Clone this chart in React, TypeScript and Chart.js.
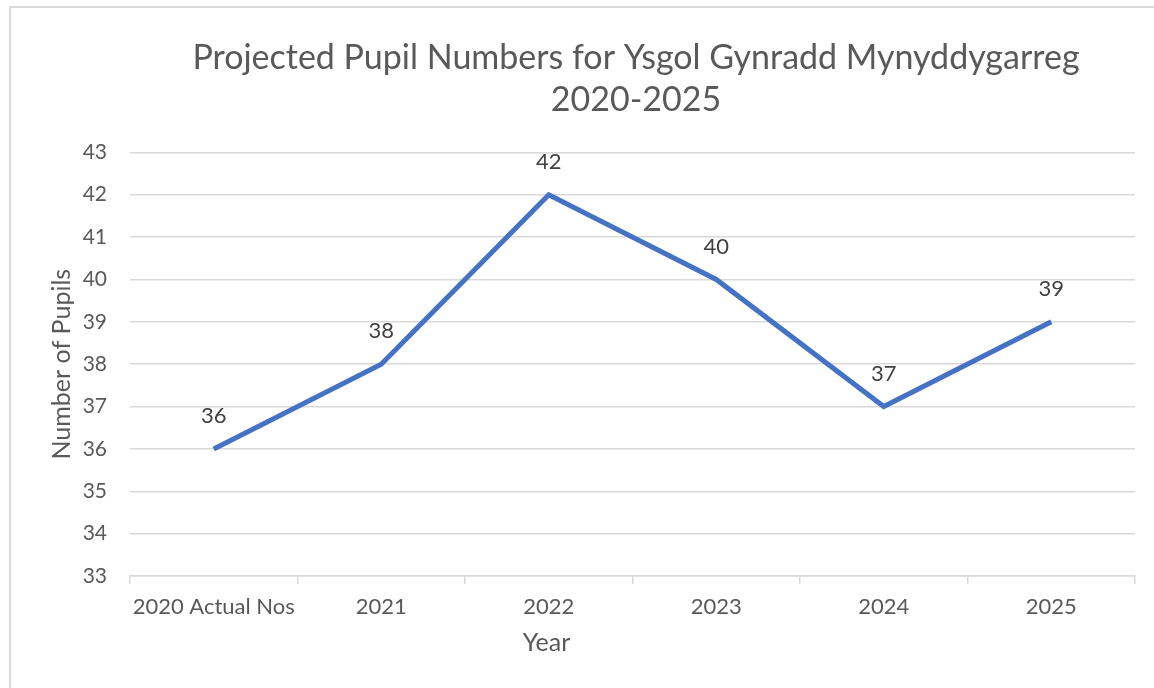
import React, { useEffect, useRef } from "react";
import { Chart, registerables } from "chart.js";

Chart.register(...registerables);

const categories = ["2020 Actual Nos", "2021", "2022", "2023", "2024", "2025"];
const pupils = [36, 38, 42, 40, 37, 39];
const yMin = 33;
const yMax = 43;
const titleLines = ["Projected Pupil Numbers for Ysgol Gynradd Mynyddygarreg", "2020-2025"];
const xTitle = "Year";
const yTitle = "Number of Pupils";

const FONT = "Lato, 'Open Sans', sans-serif";
const GRID = "#d9d9d9";
const TEXT = "#595959";

const dataLabels = {
  id: "dataLabels",
  afterDatasetsDraw(chart: any) {
    const ctx = chart.ctx;
    const meta = chart.getDatasetMeta(0);
    ctx.save();
    ctx.font = `22px ${FONT}`;
    ctx.fillStyle = "#404040";
    ctx.textAlign = "center";
    ctx.textBaseline = "middle";
    meta.data.forEach((pt: any, i: number) => {
      ctx.fillText(String(chart.data.datasets[0].data[i]), pt.x, pt.y - 33);
    });
    ctx.restore();
  },
};

const xAxisTitle = {
  id: "xAxisTitle",
  afterDraw(chart: any) {
    const ctx = chart.ctx;
    const area = chart.chartArea;
    ctx.save();
    ctx.font = `25px ${FONT}`;
    ctx.fillStyle = TEXT;
    ctx.textAlign = "center";
    ctx.textBaseline = "middle";
    ctx.fillText(xTitle, (area.left + area.right) / 2 - 86, chart.scales.x.bottom - 45);
    ctx.restore();
  },
};

export default function App() {
  const ref = useRef<HTMLCanvasElement | null>(null);
  useEffect(() => {
    if (!ref.current) return;
    const chart = new Chart(ref.current, {
      type: "line",
      data: {
        labels: categories,
        datasets: [
          {
            data: pupils,
            borderColor: "#4472C4",
            borderWidth: 5,
            pointRadius: 0,
            fill: false,
            tension: 0,
            borderJoinStyle: "miter",
            yAxisID: "y",
          },
        ],
      },
      options: {
        responsive: false,
        animation: false,
        layout: { padding: 0 },
        plugins: {
          legend: { display: false },
          tooltip: { enabled: false },
          title: {
            display: true,
            text: titleLines,
            color: TEXT,
            font: { family: FONT, size: 34, weight: "normal", lineHeight: 1.24 },
            padding: { top: 37, bottom: 31 },
          },
        },
        scales: {
          x: {
            offset: true,
            grid: {
              offset: true,
              drawOnChartArea: false,
              color: GRID,
              lineWidth: 1.5,
              tickLength: 8,
            },
            border: { color: GRID, width: 1.5 },
            ticks: { color: TEXT, font: { family: FONT, size: 22 }, padding: 10, maxRotation: 0 },
            afterFit(scale: any) {
              scale.height = 112;
            },
          },
          y: {
            position: "left",
            min: yMin,
            max: yMax,
            ticks: { stepSize: 1, color: TEXT, font: { family: FONT, size: 21 }, padding: 23 },
            grid: { color: GRID, lineWidth: 1.5, drawTicks: false },
            border: { display: false },
            title: {
              display: true,
              text: yTitle,
              color: TEXT,
              font: { family: FONT, size: 25 },
              padding: { top: 47, bottom: 47 },
            },
            afterFit(scale: any) {
              scale.width = 130;
            },
          },
          yRight: {
            position: "right",
            display: true,
            min: yMin,
            max: yMax,
            ticks: { display: false },
            grid: { display: false, drawOnChartArea: false },
            border: { display: false },
            afterFit(scale: any) {
              scale.width = 137;
            },
          },
        },
      },
      plugins: [dataLabels, xAxisTitle],
    });
    return () => chart.destroy();
  }, []);

  return (
    <div
      style={{
        position: "fixed",
        left: 0,
        top: 0,
        width: 1154,
        height: 688,
        overflow: "hidden",
        background: "#fff",
      }}
    >
      <div
        style={{
          position: "absolute",
          left: 9,
          top: 6,
          width: 1300,
          height: 800,
          border: "2px solid #d9d9d9",
        }}
      />
      <canvas
        ref={ref}
        width={1272}
        height={688}
        style={{ position: "absolute", left: 0, top: 0, width: 1272, height: 688 }}
      />
    </div>
  );
}
